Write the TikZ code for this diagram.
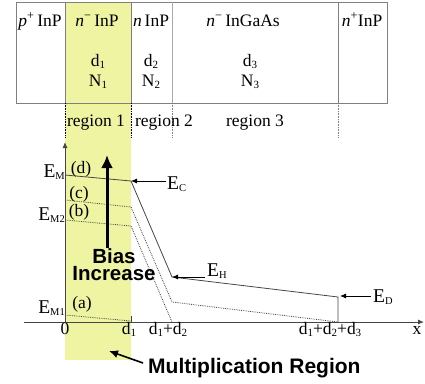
\documentclass[tikz,border=0pt]{standalone}
\usepackage{fontspec}
\setmainfont{Liberation Serif}
\setsansfont{Liberation Sans}
\usetikzlibrary{arrows.meta}
\definecolor{hl}{RGB}{238,244,162}
\definecolor{boxgray}{RGB}{128,128,128}
\definecolor{lightgray2}{RGB}{170,170,170}
\definecolor{curvegray}{RGB}{70,70,70}
\newcommand\lsub[1]{\raisebox{-2.5pt}{\fontsize{11}{11}\selectfont #1}}
\newcommand\Esub[1]{\raisebox{-2.5pt}{\fontsize{10.5}{10.5}\selectfont #1}}
\tikzset{
  lbl/.style={inner sep=0pt, anchor=base, font=\fontsize{17.5}{17.5}\selectfont},
  elbl/.style={inner sep=0pt, anchor=base, font=\fontsize{19.5}{19.5}\selectfont},
  bold/.style={inner sep=0pt, anchor=base, font=\fontsize{21}{21}\selectfont\sffamily\bfseries},
  boxline/.style={draw=boxgray, line width=0.9pt},
  divdot/.style={draw=black, densely dotted, line width=0.6pt},
  solidcurve/.style={draw=curvegray, line width=0.8pt},
  dotcurve/.style={draw=curvegray, densely dotted, line width=0.8pt},
  axis/.style={draw=curvegray, line width=0.9pt, -{Latex[length=6pt,width=5pt]}},
  ptr/.style={draw=black, line width=0.8pt, -{Latex[length=6pt,width=5pt]}},
}
\begin{document}
\begin{tikzpicture}[x=1pt,y=-1pt]
\useasboundingbox (0,0) rectangle (425,383);
% highlight of region 1
\fill[hl] (65,2) rectangle (131,360);
% layer box
\draw[boxline] (16,2) rectangle (387,103);
\draw[boxline] (65,2) -- (65,103);
\draw[boxline] (131,2) -- (131,103);
\draw[draw=lightgray2, line width=0.9pt] (172,2) -- (172,103);
\draw[boxline] (338,2) -- (338,103);
% region dividers
\draw[divdot] (65,103) -- (65,137);
\draw[divdot] (131,103) -- (131,137);
\draw[divdot, draw=boxgray] (172,103) -- (172,137);
\draw[divdot, draw=boxgray] (338,103) -- (338,137);
% layer labels
\node[lbl] (L1) at (40,26) {\textit{p}\textsuperscript{+}\,InP};
\node[lbl] (L2) at (97,26) {\textit{n}\textsuperscript{−}\,InP};
\node[lbl] (L3) at (151,26) {\textit{n}\,InP};
\node[lbl] (L4) at (243,26) {\textit{n}\textsuperscript{−}\,InGaAs};
\node[lbl] (L5) at (362,26) {\textit{n}\textsuperscript{+}InP};
\node[lbl] (D1) at (98,66) {d\lsub{1}};
\node[lbl] (N1) at (98,86) {N\lsub{1}};
\node[lbl] (D2) at (151,66) {d\lsub{2}};
\node[lbl] (N2) at (151,86) {N\lsub{2}};
\node[lbl] (D3) at (250,66) {d\lsub{3}};
\node[lbl] (N3) at (250,86) {N\lsub{3}};
\node[lbl] (R1) at (96,126) {region 1};
\node[lbl] (R2) at (164,126) {region 2};
\node[lbl] (R3) at (255,126) {region 3};
% axes
\coordinate (xs) at (24,322);
\coordinate (xe) at (424,322);
\coordinate (yb) at (65,322);
\coordinate (yt) at (65,142);
\draw[axis] (xs) -- (xe);
\draw[axis] (yb) -- (yt);
\draw[draw=curvegray, line width=0.8pt] (131,316) -- (131,322);
% curve points
\coordinate (d0) at (65,175);
\coordinate (d1) at (131,181);
\coordinate (d2) at (172,277);
\coordinate (d3) at (338,297);
\coordinate (d4) at (338,322);
\coordinate (c0) at (65,200);
\coordinate (c1) at (131,207);
\coordinate (c2) at (172,302);
\coordinate (c3) at (338,322);
\coordinate (b0) at (65,220);
\coordinate (b1) at (131,226);
\coordinate (b2) at (172,322);
\coordinate (a0) at (65,315);
\coordinate (a1) at (131,321);
\draw[solidcurve] (d0) -- (d1) -- (d2) -- (d3) -- (d4);
\draw[dotcurve] (c0) -- (c1) -- (c2) -- (c3);
\draw[dotcurve] (b0) -- (b1) -- (b2);
\draw[dotcurve] (a0) -- (a1);
% curve labels
\node[lbl] (ld) at (81,173) {(d)};
\node[lbl] (lc) at (79,198) {(c)};
\node[lbl] (lb) at (79,216) {(b)};
\node[lbl] (la) at (82,308) {(a)};
\node[elbl, anchor=base east] (EM) at (65,177) {E\Esub{M}};
\node[elbl, anchor=base east] (EM2) at (65,220) {E\Esub{M2}};
\node[elbl, anchor=base east] (EM1) at (65,313) {E\Esub{M1}};
% field pointers
\node[elbl, anchor=base west] (EC) at (167,189) {E\Esub{C}};
\coordinate (ECt) at (166,181);
\draw[ptr] (ECt) -- (d1);
\node[elbl, anchor=base west] (EH) at (207,276) {E\Esub{H}};
\coordinate (EHt) at (205,277);
\draw[ptr] (EHt) -- (d2);
\node[elbl, anchor=base west] (ED) at (373,302) {E\Esub{D}};
\coordinate (EDt) at (371,296);
\coordinate (EDh) at (340,296);
\draw[ptr] (EDt) -- (EDh);
% x-axis labels
\node[lbl] (t0) at (65,334) {0};
\node[lbl] (t1) at (129,334) {d\lsub{1}};
\node[lbl] (t2) at (168,334) {d\lsub{1}+d\lsub{2}};
\node[lbl] (t3) at (330,334) {d\lsub{1}+d\lsub{2}+d\lsub{3}};
\node[lbl] (tx) at (417,334) {x};
% bias increase
\coordinate (ba) at (107,248);
\coordinate (bt) at (107,155);
\draw[draw=black, line width=3pt, -{Latex[length=13pt,width=12pt]}] (ba) -- (bt);
\node[inner sep=0pt, align=center, anchor=north, font=\fontsize{20.5}{17.5}\selectfont\sffamily\bfseries] (bias) at (114,248) {Bias\\Increase};
% multiplication region
\node[bold, anchor=base west] (mr) at (148,373) {Multiplication Region};
\coordinate (mra) at (143,363);
\coordinate (mrt) at (109,351);
\draw[draw=black, line width=1.6pt, -{Latex[length=9pt,width=8pt]}] (mra) -- (mrt);
\end{tikzpicture}
\end{document}
